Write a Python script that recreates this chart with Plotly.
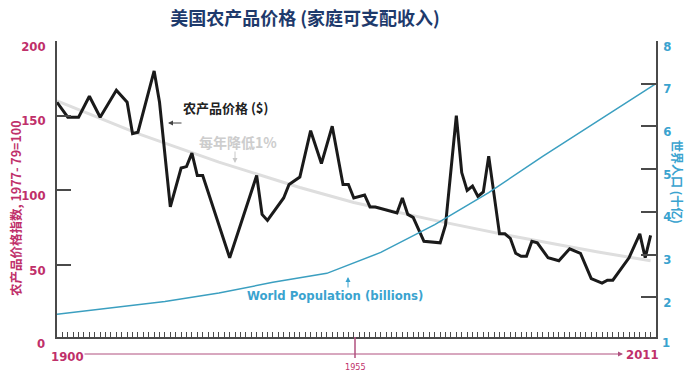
import plotly.graph_objects as go

# ---- data ----
price_years = [1900, 1902, 1904, 1906, 1908, 1911, 1913, 1914, 1915, 1918, 1919, 1921,
               1923, 1924, 1925, 1926, 1927, 1932, 1937, 1938, 1939, 1942, 1943, 1945,
               1947, 1949, 1951, 1953, 1954, 1955, 1957, 1958, 1959, 1960, 1963, 1964,
               1965, 1966, 1968, 1971, 1972, 1974, 1975, 1976, 1977, 1978, 1979, 1980,
               1982, 1983, 1984, 1985, 1986, 1987, 1988, 1989, 1991, 1993, 1995, 1997,
               1999, 2001, 2002, 2003, 2006, 2008, 2009, 2010]
price_values = [159, 149, 149, 163, 149, 167, 159, 138, 139, 180, 159, 89,
                115, 116, 125, 110, 110, 55, 110, 84, 80, 95, 104, 109,
                140, 118, 143, 104, 104, 95, 97, 89, 89, 88, 85, 95,
                84, 82, 66, 65, 77, 150, 112, 100, 103, 96, 99, 123,
                71, 71, 68, 58, 56, 56, 66, 65, 55, 53, 61, 58,
                41, 38, 40, 40, 55, 71, 55, 70]

trend_years = [1900, 1915, 1930, 1945, 1955, 1970, 1985, 2000, 2010]
trend_values = [160, 138, 119, 102, 92, 80, 69, 59, 53]

pop_years = [1900, 1920, 1930, 1940, 1950, 1955, 1960, 1970, 1980, 1990, 2000, 2011]
pop_values = [1.6, 1.9, 2.1, 2.35, 2.56, 2.8, 3.05, 3.7, 4.45, 5.3, 6.1, 7.0]

left_ticks = [50, 100, 150, 200]
right_ticks = [2, 3, 4, 5, 6, 7, 8]

# ---- styling ----
PINK = "#c0306a"
BLUE = "#3aa3cf"
NAVY = "#1e3a6c"
AXIS = "#4a4a4a"
NARROW = "DejaVu Sans Condensed, Liberation Sans Narrow, sans-serif"
CJK = "Noto Sans CJK SC, sans-serif"

W, H = 697, 375
L, R, T, B = 57, 41, 41, 38
PW, PH = W - L - R, H - T - B


def px(x):
    return (x - L) / PW


def py(y):
    return (H - B - y) / PH


def nfont(size, color):
    return dict(family=NARROW, size=size, color=color, weight="bold")


fig = go.Figure()
fig.add_trace(go.Scatter(x=trend_years, y=trend_values, mode="lines",
                         line=dict(color="#dedede", width=3), hoverinfo="skip", yaxis="y"))
fig.add_trace(go.Scatter(x=pop_years, y=pop_values, mode="lines",
                         line=dict(color="#3b9fc0", width=1.5), yaxis="y2"))
fig.add_trace(go.Scatter(x=price_years, y=price_values, mode="lines",
                         line=dict(color="#1a1a1a", width=3), yaxis="y"))

fig.update_layout(
    width=W, height=H,
    margin=dict(l=L, r=R, t=T, b=B),
    paper_bgcolor="white", plot_bgcolor="white",
    showlegend=False,
    title=dict(text="<b>美国农产品价格 (家庭可支配收入)</b>", x=305 / W, xref="container",
               y=1 - 19 / H, yref="container", xanchor="center", yanchor="middle",
               font=dict(family=CJK, size=18, color=NAVY)),
    xaxis=dict(range=[1900, 2011], showgrid=False, zeroline=False, showline=True,
               linecolor=AXIS, linewidth=1.5, ticks="inside", tick0=1900, dtick=1,
               ticklen=5, tickwidth=1, tickcolor=AXIS, showticklabels=False),
    yaxis=dict(range=[2, 200], showgrid=False, zeroline=False, showline=True,
               linecolor=AXIS, linewidth=1.5, ticks="inside", ticklen=14, tickwidth=1.5,
               tickcolor=AXIS, tickvals=left_ticks, ticktext=[str(v) for v in left_ticks],
               ticklabelstandoff=7, ticklabelshift=5,
               tickfont=nfont(13, PINK)),
    yaxis2=dict(range=[1.07, 8], overlaying="y", side="right", showgrid=False,
                zeroline=False, showline=True, linecolor=AXIS, linewidth=1.5,
                ticks="inside", ticklen=15, tickwidth=1.5, tickcolor=AXIS,
                tickvals=right_ticks, ticktext=[str(v) for v in right_ticks],
                ticklabelstandoff=3, ticklabelshift=5,
                tickfont=nfont(13, BLUE)),
)

ann = []
ann.append(dict(x=px(225), y=py(108), text="<b>农产品价格 ($)</b>",
                font=dict(family=CJK, size=13, color="#222")))
ann.append(dict(x=px(238), y=py(142), text="<b>每年降低1%</b>",
                font=dict(family=CJK, size=14, color="#cdcdcd")))
ann.append(dict(x=px(335), y=py(295), text="<b>World Population (billions)</b>",
                font=nfont(13, BLUE)))
ann.append(dict(x=px(67), y=py(356), text="<b>1900</b>", font=nfont(13, PINK)))
ann.append(dict(x=px(642), y=py(354), text="<b>2011</b>", font=nfont(13, PINK)))
ann.append(dict(x=px(355), y=py(367), text="1955",
                font=dict(family=NARROW, size=9, color=PINK)))
ann.append(dict(x=px(47), y=py(343), text="<b>0</b>", xanchor="right", font=nfont(13, PINK)))
ann.append(dict(x=px(660), y=py(342), text="<b>1</b>", xanchor="left", font=nfont(13, BLUE)))
ann.append(dict(x=px(15), y=py(208), text="<b>农产品价格指数, 1977- 79=100</b>", textangle=-90,
                font=dict(family=CJK, size=12.5, color=PINK)))
ann.append(dict(x=px(678), y=py(182), text="<b>世界人口 (十亿)</b>", textangle=90,
                font=dict(family=CJK, size=12, color=BLUE)))
for a in ann:
    a.update(xref="paper", yref="paper", showarrow=False,
             xanchor=a.get("xanchor", "center"), yanchor="middle")

arrows = [
    dict(x=px(168), y=py(123), ax=15, ay=0, arrowcolor="#444"),
    dict(x=px(235), y=py(163), ax=0, ay=-13, arrowcolor="#c8c8c8"),
    dict(x=px(348), y=py(277), ax=0, ay=12, arrowcolor=BLUE),
    dict(x=px(623), y=py(354), ax=-540, ay=0, arrowcolor="#b0507f"),
]
for a in arrows:
    a.update(xref="paper", yref="paper", text="", showarrow=True, arrowhead=2,
             arrowsize=1, arrowwidth=1)
    ann.append(a)

fig.update_layout(annotations=ann)
fig.add_shape(type="line", xref="paper", yref="paper", x0=px(355), x1=px(355),
              y0=py(337), y1=py(358), line=dict(color="#b0507f", width=1.5))

fig.write_html("out.html", config={"displayModeBar": False},
               post_script="document.body.style.margin='0';document.body.style.padding='0';")
